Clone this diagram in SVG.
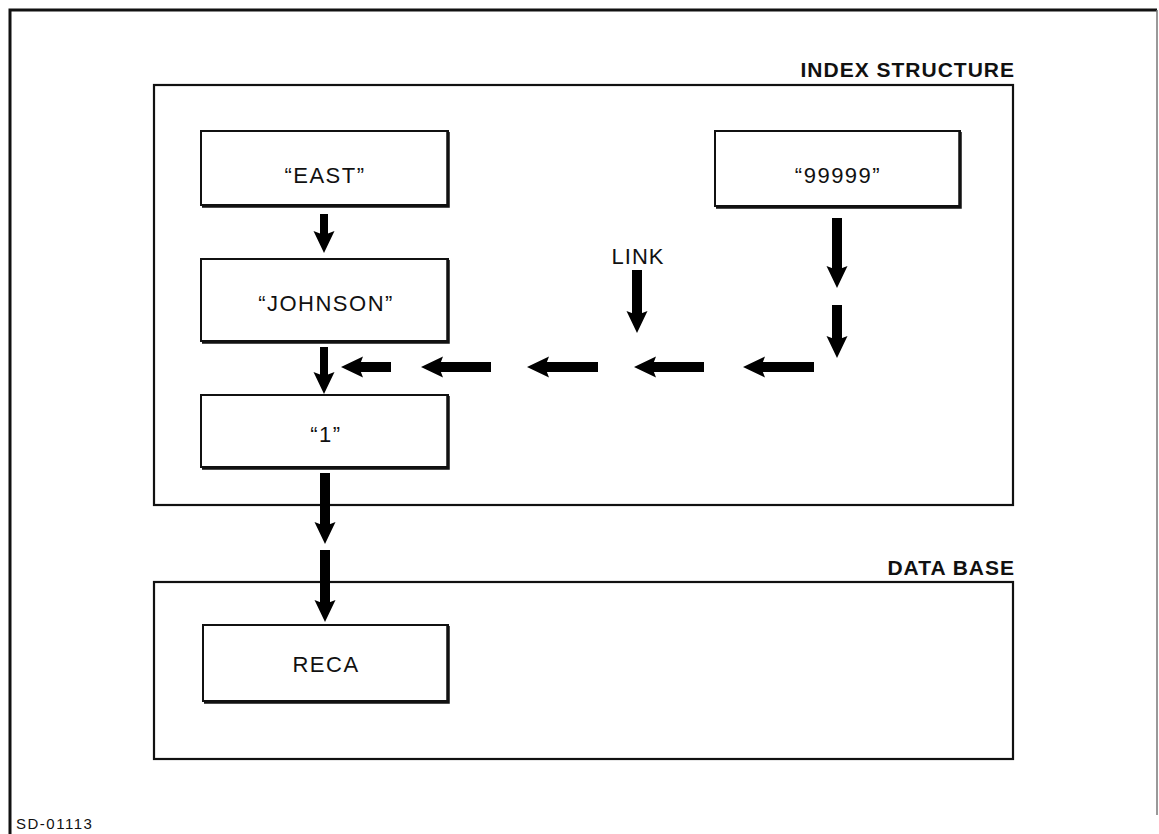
<svg xmlns="http://www.w3.org/2000/svg" width="1159" height="834" viewBox="0 0 1159 834">
  <style>
    .frame { fill: none; stroke: #111; stroke-width: 3; }
    .frame-r { fill: none; stroke: #777; stroke-width: 1.5; }
    .area { fill: none; stroke: #111; stroke-width: 2.2; }
    .box { fill: #fff; stroke: #111; stroke-width: 2; }
    .shade { fill: none; stroke: #111; stroke-width: 3.5; }
    .lbl { font-family: "Liberation Sans", Arial, sans-serif; font-size: 22px; letter-spacing: 1.5px; fill: #111; text-anchor: middle; }
    .head { font-family: "Liberation Sans", Arial, sans-serif; font-weight: bold; font-size: 21px; letter-spacing: 1px; fill: #111; text-anchor: end; }
    .link { font-family: "Liberation Sans", Arial, sans-serif; font-size: 22px; letter-spacing: 1px; fill: #111; text-anchor: middle; }
    .code { font-family: "Liberation Sans", Arial, sans-serif; font-size: 15px; letter-spacing: 1.5px; fill: #111; }
    .arr { stroke: #000; stroke-width: 10; fill: none; marker-end: url(#head); }
    .arr-s { stroke: #000; stroke-width: 8; fill: none; marker-end: url(#head); }
  </style>
  <defs>
    <marker id="head" markerUnits="userSpaceOnUse" markerWidth="24" markerHeight="24" viewBox="0 -12 24 24" refX="8" refY="0" orient="auto" overflow="visible">
      <path d="M0,-10.5 L22,0 L0,10.5 L4,0 Z" fill="#000"/>
    </marker>
  </defs>

  <!-- outer frame -->
  <path class="frame" d="M10,834 V10 H1157"/>
  <path class="frame-r" d="M1157,10 V815"/>

  <!-- index structure area -->
  <g id="index-structure">
    <rect class="area" x="154" y="85" width="859" height="420"/>
    <text class="head" x="1015" y="77">INDEX STRUCTURE</text>
  </g>

  <!-- data base area -->
  <g id="data-base">
    <rect class="area" x="154" y="582" width="859" height="177"/>
    <text class="head" x="1015" y="575">DATA BASE</text>
  </g>

  <g id="node-east">
    <rect class="box" x="201" y="131" width="247" height="74"/>
    <path class="shade" d="M448,132 V206 H202"/>
    <text class="lbl" x="325" y="183">“EAST”</text>
  </g>

  <g id="node-johnson">
    <rect class="box" x="201" y="259" width="247" height="82"/>
    <path class="shade" d="M448,260 V342 H202"/>
    <text class="lbl" x="326" y="311">“JOHNSON”</text>
  </g>

  <g id="node-1">
    <rect class="box" x="201" y="395" width="247" height="72"/>
    <path class="shade" d="M448,396 V468 H202"/>
    <text class="lbl" x="326" y="442">“1”</text>
  </g>

  <g id="node-99999">
    <rect class="box" x="715" y="131" width="245" height="75"/>
    <path class="shade" d="M960,132 V207 H716"/>
    <text class="lbl" x="838" y="183">“99999”</text>
  </g>

  <g id="node-reca">
    <rect class="box" x="203" y="625" width="245" height="76"/>
    <path class="shade" d="M448,626 V702 H204"/>
    <text class="lbl" x="326" y="672">RECA</text>
  </g>

  <g id="node-link">
    <text class="link" x="638" y="264">LINK</text>
  </g>

  <!-- connectors: each line ends 14px short of its arrow tip -->
  <g id="connectors">
    <line class="arr-s" x1="324" y1="214" x2="324" y2="239"/>
    <line class="arr-s" x1="324" y1="347" x2="324" y2="380"/>
    <line class="arr" x1="325" y1="473" x2="325" y2="530"/>
    <line class="arr" x1="325" y1="550" x2="325" y2="608"/>
    <line class="arr" x1="837" y1="218" x2="837" y2="274"/>
    <line class="arr" x1="837" y1="305" x2="837" y2="344"/>
    <line class="arr" x1="637" y1="270" x2="637" y2="319"/>
    <line class="arr" x1="391" y1="367" x2="355" y2="367"/>
    <line class="arr" x1="491" y1="367" x2="435" y2="367"/>
    <line class="arr" x1="598" y1="367" x2="541" y2="367"/>
    <line class="arr" x1="704" y1="367" x2="648" y2="367"/>
    <line class="arr" x1="814" y1="367" x2="757" y2="367"/>
  </g>

  <text class="code" x="16" y="829">SD-01113</text>
</svg>
